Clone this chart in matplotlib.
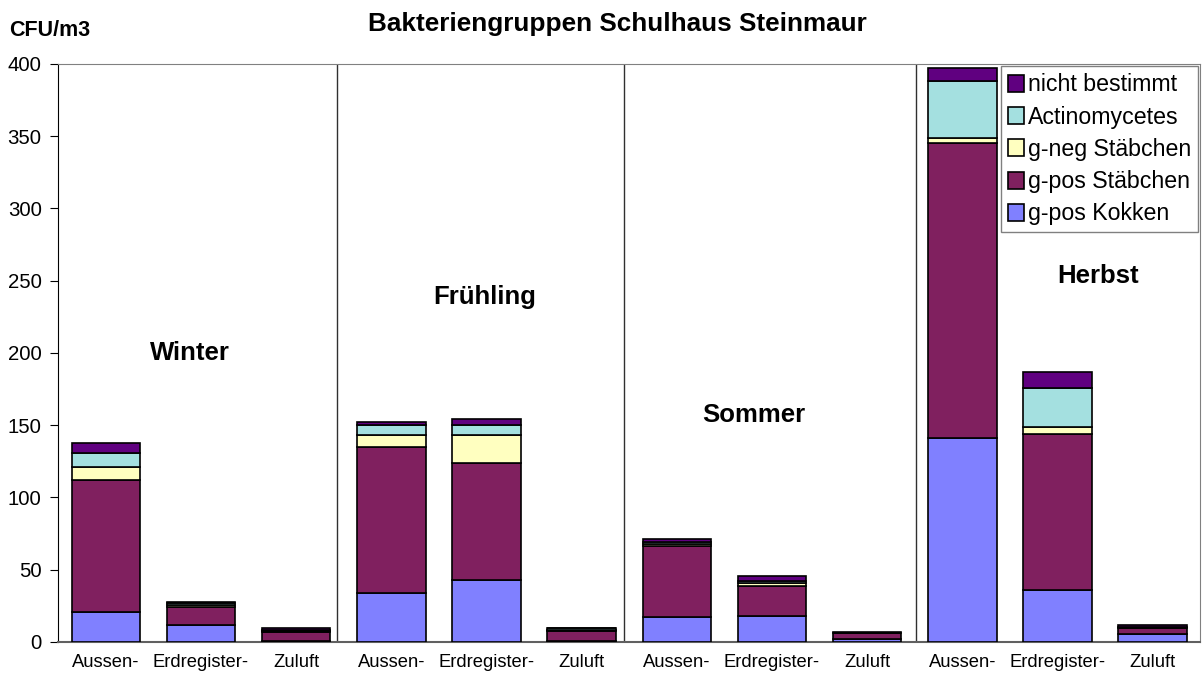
import matplotlib
matplotlib.use("Agg")
import matplotlib.pyplot as plt
import numpy as np

plt.rcParams['font.family'] = ['Liberation Sans', 'DejaVu Sans']

# categories (3 sampling points x 4 seasons)
orte = ['Aussen-', 'Erdregister-', 'Zuluft'] * 4
seasons = ['Winter', 'Frühling', 'Sommer', 'Herbst']

# CFU/m3 per bacteria group, same order as orte
kokken = [21, 12, 1, 34, 43, 1, 17.5, 18, 2, 141, 36, 5.5]
pos_staebchen = [91, 12, 6, 101, 81, 6.5, 49, 21, 4.5, 204, 108, 4]
neg_staebchen = [9, 1.5, 0.5, 8, 19, 0.5, 1, 1.5, 0, 4, 4.5, 0.5]
actinomycetes = [10, 1.5, 1, 7.5, 7.5, 2, 1.5, 1.5, 0, 39, 27, 0.5]
nicht_bestimmt = [7, 0.7, 1.5, 1.5, 3.5, 0, 2.5, 4, 0.3, 9, 11, 1]

groups = [
    ('g-pos Kokken', kokken, '#8080ff'),
    ('g-pos Stäbchen', pos_staebchen, '#80205f'),
    ('g-neg Stäbchen', neg_staebchen, '#ffffc0'),
    ('Actinomycetes', actinomycetes, '#a4e0e0'),
    ('nicht bestimmt', nicht_bestimmt, '#600080'),
]

fig = plt.figure(figsize=(12.02, 6.75), dpi=100)
ax = fig.add_axes([0.0485, 0.0489, 0.95, 0.8563])

x = np.arange(len(orte))
bottom = np.zeros(len(orte))
for name, vals, col in groups:
    ax.bar(x, vals, 0.72, bottom=bottom, color=col, edgecolor='black',
           linewidth=1.2, label=name, zorder=3)
    bottom += np.array(vals)

# season separators and labels
for sx in [2.43, 5.45, 8.51]:
    ax.axvline(sx, color='#303030', linewidth=1, zorder=2)
label_pos = [(0.885, 200), (3.976, 239), (6.805, 157), (10.43, 253)]
for s, (lx, ly) in zip(seasons, label_pos):
    ax.text(lx, ly, s, ha='center', va='center', fontsize=18.5,
            fontweight='bold')

ax.set_xlim(-0.5, 11.5)
ax.set_ylim(0, 400)
ax.set_yticks(range(0, 401, 50))
ax.set_xticks(x)
ax.set_xticklabels(orte, fontsize=13.2)
ax.tick_params(axis='x', length=0, pad=9)
ax.tick_params(axis='y', labelsize=14.7, length=6, pad=6, direction='out')

ax.spines['left'].set_color('black')
for sp in ['top', 'right']:
    ax.spines[sp].set_color('#808080')
ax.spines['bottom'].set_color('#606060')
ax.spines['bottom'].set_linewidth(1.5)

h, l = ax.get_legend_handles_labels()
leg = ax.legend(h[::-1], l[::-1], loc='upper right', fontsize=16.7,
                frameon=True, fancybox=False, edgecolor='#606060',
                borderaxespad=0.1, handlelength=0.7, handleheight=0.75,
                handletextpad=0.15, labelspacing=0.4, borderpad=0.3)
leg.get_frame().set_linewidth(1)

fig.text(0.514, 0.964, 'Bakteriengruppen Schulhaus Steinmaur', ha='center',
         va='center', fontsize=18.8, fontweight='bold')
fig.text(0.0075, 0.955, 'CFU/m3', ha='left', va='center', fontsize=15.5,
         fontweight='bold')

fig.savefig('out.png', dpi=100)
